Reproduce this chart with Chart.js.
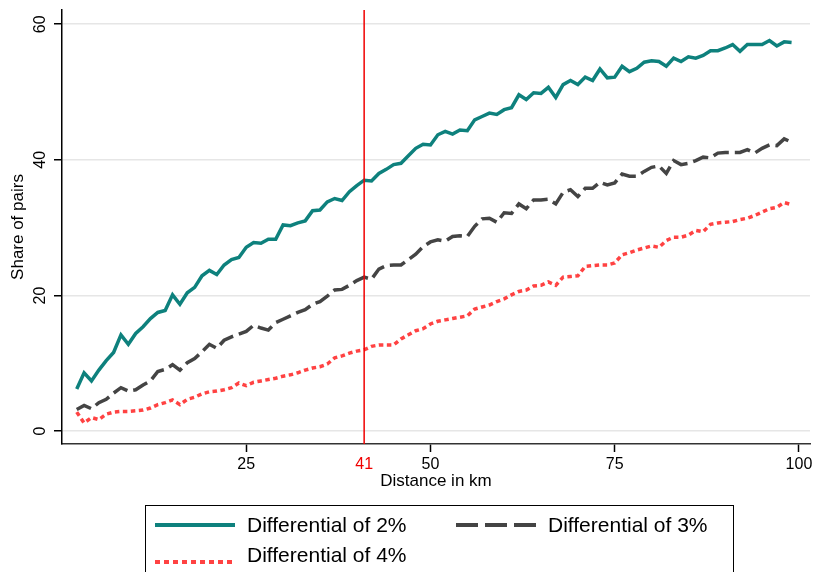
<!DOCTYPE html>
<html>
<head>
<meta charset="utf-8">
<script src="https://cdn.jsdelivr.net/npm/chart.js@4.4.1/dist/chart.umd.min.js"></script>
<style>
  html, body { margin: 0; padding: 0; background: #fff; }
</style>
</head>
<body>
<canvas id="pairsChart" width="814" height="572"></canvas>
<script>
// Share of pairs by distance, three price differentials

const distanceKm = [
   2,  3,  4,  5,  6,  7,  8,  9, 10, 11, 12, 13, 14, 15, 16, 17, 18, 19, 20, 21,
  22, 23, 24, 25, 26, 27, 28, 29, 30, 31, 32, 33, 34, 35, 36, 37, 38, 39, 40, 41,
  42, 43, 44, 45, 46, 47, 48, 49, 50, 51, 52, 53, 54, 55, 56, 57, 58, 59, 60, 61,
  62, 63, 64, 65, 66, 67, 68, 69, 70, 71, 72, 73, 74, 75, 76, 77, 78, 79, 80, 81,
  82, 83, 84, 85, 86, 87, 88, 89, 90, 91, 92, 93, 94, 95, 96, 97, 98, 99
];

const diff2 = [
   6.2,  8.6,  7.4,  9.0, 10.4, 11.6, 14.2, 12.8, 14.4, 15.4, 16.6, 17.5, 17.8, 20.1, 18.7, 20.4, 21.2, 22.9, 23.7, 23.1,
  24.5, 25.3, 25.6, 27.1, 27.8, 27.7, 28.3, 28.3, 30.4, 30.3, 30.7, 31.0, 32.5, 32.6, 33.8, 34.3, 34.0, 35.3, 36.2, 37.0,
  36.9, 38.0, 38.6, 39.3, 39.5, 40.6, 41.7, 42.3, 42.2, 43.7, 44.2, 43.8, 44.4, 44.3, 45.9, 46.4, 46.9, 46.7, 47.4, 47.7,
  49.6, 48.9, 49.9, 49.8, 50.7, 49.2, 51.1, 51.7, 51.1, 52.2, 51.7, 53.4, 52.1, 52.2, 53.8, 53.0, 53.5, 54.4, 54.6, 54.5,
  53.8, 55.0, 54.5, 55.2, 55.0, 55.4, 56.1, 56.1, 56.5, 57.0, 56.0, 57.0, 57.0, 57.0, 57.6, 56.8, 57.4, 57.3
];

const diff3 = [
   3.2,  3.8,  3.3,  4.2,  4.7,  5.6,  6.4,  5.9,  6.1,  6.8,  7.4,  8.8,  9.1,  9.8,  9.0, 10.1, 10.7, 11.7, 12.8, 12.2,
  13.4, 13.9, 14.3, 14.7, 15.6, 15.2, 14.9, 16.0, 16.5, 17.0, 17.5, 17.9, 18.7, 19.1, 19.9, 20.8, 20.9, 21.5, 22.2, 22.7,
  22.4, 23.9, 24.4, 24.5, 24.5, 25.3, 26.1, 27.2, 27.9, 28.2, 28.0, 28.7, 28.8, 28.7, 30.2, 31.3, 31.4, 30.8, 32.2, 32.1,
  33.5, 32.8, 34.1, 34.1, 34.2, 33.5, 35.2, 35.6, 34.6, 35.8, 35.8, 36.7, 36.3, 36.6, 37.9, 37.6, 37.6, 38.3, 38.9, 39.1,
  38.0, 39.9, 39.3, 39.5, 39.9, 40.4, 40.3, 41.0, 41.1, 41.1, 41.1, 41.5, 41.0, 41.7, 42.2, 42.1, 43.1, 42.6
];

const diff4 = [
   2.8,  1.2,  2.0,  1.7,  2.5,  2.8,  2.9,  2.9,  3.0,  3.1,  3.4,  3.9,  4.2,  4.6,  3.9,  4.7,  5.0,  5.5,  5.8,  5.9,
   6.1,  6.4,  7.1,  6.7,  7.2,  7.4,  7.6,  7.8,  8.1,  8.3,  8.6,  9.0,  9.3,  9.5,  9.9, 10.8, 11.1, 11.5, 11.8, 12.0,
  12.5, 12.7, 12.7, 12.7, 13.6, 14.2, 14.8, 15.1, 15.8, 16.2, 16.4, 16.6, 16.8, 17.0, 18.0, 18.3, 18.6, 19.1, 19.5, 20.1,
  20.6, 20.8, 21.4, 21.5, 22.0, 21.5, 22.7, 22.8, 22.9, 24.3, 24.4, 24.5, 24.5, 24.8, 26.0, 26.3, 26.7, 27.0, 27.3, 27.1,
  28.1, 28.6, 28.6, 28.9, 29.6, 29.4, 30.5, 30.7, 30.8, 30.9, 31.2, 31.4, 31.8, 32.3, 32.8, 33.0, 33.7, 33.4
];

const seriesLabels = ['Differential of 2%', 'Differential of 3%', 'Differential of 4%'];
const xTickValues = [25, 41, 50, 75, 100];
const yTickValues = [0, 20, 40, 60];
const cutoffKm = 41;

const FONT = "'Liberation Sans', Arial, Helvetica, sans-serif";
const CUTOFF_RED = '#f00000';
Chart.defaults.font.family = FONT;
Chart.defaults.color = '#000';

function toPoints(values) {
  return distanceKm.map((d, i) => ({ x: d, y: values[i] }));
}

// vertical line at the cutoff distance
const cutoffLine = {
  id: 'cutoffLine',
  afterDatasetsDraw(chart) {
    const { ctx, chartArea, scales } = chart;
    const px = scales.x.getPixelForValue(cutoffKm);
    ctx.save();
    ctx.strokeStyle = CUTOFF_RED;
    ctx.lineWidth = 1.5;
    ctx.beginPath();
    ctx.moveTo(px, chartArea.top);
    ctx.lineTo(px, chartArea.bottom);
    ctx.stroke();
    ctx.restore();
  }
};

// Stata-like boxed legend under the plot
const boxLegend = {
  id: 'boxLegend',
  afterDraw(chart) {
    const ctx = chart.ctx;
    const slots = [
      { x: 155, y: 525, ty: 526 },
      { x: 456, y: 525, ty: 526 },
      { x: 155, y: 562, ty: 556 }
    ];
    ctx.save();
    ctx.strokeStyle = '#000';
    ctx.lineWidth = 1;
    ctx.strokeRect(145.5, 505.5, 588, 80);
    chart.data.datasets.forEach((ds, i) => {
      const s = slots[i];
      ctx.beginPath();
      ctx.strokeStyle = ds.borderColor;
      ctx.lineWidth = 4;
      ctx.setLineDash(ds.legendDash);
      ctx.moveTo(s.x, s.y);
      ctx.lineTo(s.x + 80, s.y);
      ctx.stroke();
      ctx.setLineDash([]);
      ctx.fillStyle = '#000';
      ctx.font = '21px ' + FONT;
      ctx.textBaseline = 'middle';
      ctx.fillText(ds.label, s.x + 92, s.ty);
    });
    ctx.restore();
  }
};

const canvas = document.getElementById('pairsChart');

new Chart(canvas.getContext('2d'), {
  type: 'line',
  data: {
    datasets: [
      {
        label: seriesLabels[0],
        data: toPoints(diff2),
        borderColor: '#0e817d',
        borderWidth: 3.5,
        legendDash: [],
        pointRadius: 0,
        tension: 0,
        fill: false
      },
      {
        label: seriesLabels[1],
        data: toPoints(diff3),
        borderColor: '#444444',
        borderWidth: 3.5,
        borderDash: [16, 6],
        legendDash: [22, 7],
        pointRadius: 0,
        tension: 0,
        fill: false
      },
      {
        label: seriesLabels[2],
        data: toPoints(diff4),
        borderColor: '#ff4242',
        borderWidth: 3.5,
        borderDash: [4.5, 3.5],
        legendDash: [5, 4],
        pointRadius: 0,
        tension: 0,
        fill: false
      }
    ]
  },
  options: {
    responsive: false,
    animation: false,
    layout: { padding: { left: 0, top: 10, right: 4, bottom: 78 } },
    plugins: {
      legend: { display: false },
      tooltip: { enabled: false }
    },
    scales: {
      x: {
        type: 'linear',
        min: 0,
        max: 101.5,
        afterBuildTicks: s => { s.ticks = xTickValues.map(v => ({ value: v })); },
        afterFit: s => { s.height = 50; s.paddingLeft = 0; s.paddingRight = 0; },
        ticks: {
          autoSkip: false,
          maxRotation: 0,
          padding: 3,
          font: { size: 16 },
          callback: v => String(v),
          color: c => (c.tick && c.tick.value === cutoffKm ? CUTOFF_RED : '#000')
        },
        grid: {
          drawOnChartArea: false,
          tickLength: 8,
          tickWidth: 1.5,
          tickColor: c => (c.tick && c.tick.value === cutoffKm ? 'rgba(0,0,0,0)' : '#000')
        },
        border: { color: '#333', width: 1.5 },
        title: {
          display: true,
          text: 'Distance in km',
          font: { size: 17 },
          padding: { top: 0, bottom: 2 }
        }
      },
      y: {
        min: -1.9,
        max: 62.1,
        afterBuildTicks: s => { s.ticks = yTickValues.map(v => ({ value: v })); },
        afterFit: s => { s.width = 62; s.paddingTop = 0; s.paddingBottom = 0; },
        ticks: {
          minRotation: 90,
          maxRotation: 90,
          crossAlign: 'center',
          padding: 5,
          font: { size: 16 },
          callback: v => String(v)
        },
        grid: {
          color: '#e6e6e6',
          lineWidth: 1.5,
          tickLength: 8,
          tickWidth: 1.5,
          tickColor: '#000'
        },
        border: { color: '#000', width: 1.5 },
        title: {
          display: true,
          text: 'Share of pairs',
          font: { size: 17 },
          padding: { top: 8, bottom: 0 }
        }
      }
    }
  },
  plugins: [cutoffLine, boxLegend]
});
</script>
</body>
</html>
